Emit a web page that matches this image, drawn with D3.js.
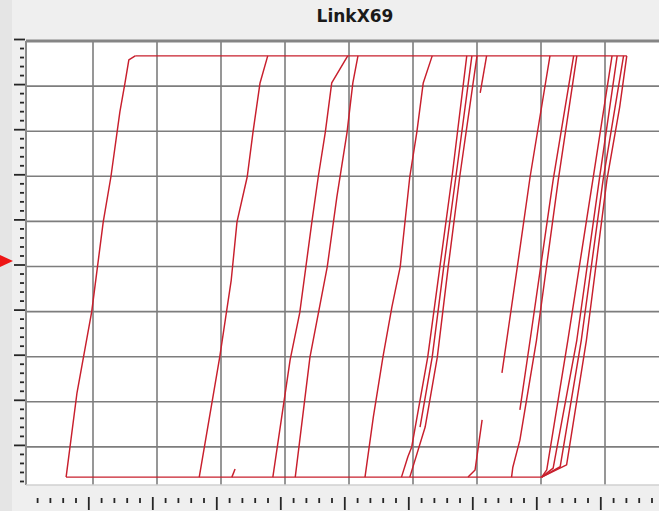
<!DOCTYPE html>
<html>
<head>
<meta charset="utf-8">
<script src="https://cdn.jsdelivr.net/npm/d3@7"></script>
<style>
  body { margin: 0; background: #efefef; }
  svg { display: block; font-family: "DejaVu Sans", Verdana, sans-serif; }
  .grid line { stroke: #7d7d7d; stroke-width: 1.6px; }
  .tick line { stroke: #262626; stroke-width: 1.8px; }
  .trace { fill: none; stroke: #c81f2d; stroke-width: 1.45px; stroke-linejoin: round; }
</style>
</head>
<body>
<div id="chart"></div>
<script>
// link position (y, 0..100) against time (x, 0..100), one polyline per vehicle
const chartTitle = 'LinkX69'
const gridX = [10, 20, 30, 40, 50, 60, 70, 80, 90]
const gridY = [10, 20, 30, 40, 50, 60, 70, 80, 90]

const entryLine = [[5.8, 3.3], [80.1, 3.3]]
const exitLine = [[16.6, 96.7], [93.4, 96.7]]

const trajA = [[5.8, 3.3], [7.5, 22], [9.8, 40], [11.6, 59.9], [12.8, 69.9], [14.2, 84.3], [15, 90.7], [15.6, 95.8], [16.6, 96.7]]
const trajB = [[26.6, 3.3], [29.8, 29.9], [31.6, 47], [32.5, 59.9], [34.1, 69.9], [35, 79.8], [36.1, 90.7], [37.3, 96.7]]
const stubB = [[31.7, 3.3], [32.2, 5.1]]
const trajC = [[38.1, 3.3], [40.8, 29.3], [42.3, 39.7], [44.2, 59.9], [45.2, 69.9], [46.3, 79.8], [47.3, 90.7], [49.8, 96.7]]
const trajD = [[41.6, 3.3], [43.9, 29.9], [46.6, 49.9], [48.1, 65.4], [49.7, 79.8], [50.6, 90.7], [51.4, 96.7]]
const trajE = [[52.5, 3.3], [53.8, 16.6], [55.3, 29.9], [56.7, 41], [58, 49.9], [59.5, 69.9], [60.6, 79.8], [61.6, 90.7], [63, 96.7]]
const trajF = [[58.2, 3.3], [59.2, 7.8], [59.8, 10], [62.3, 29.9], [64.2, 49.9], [66.1, 69.9], [68.4, 96.7]]
const trajG = [[61.1, 14.4], [63, 29.9], [64.8, 49.9], [66.7, 69.9], [69.2, 96.7]]
const trajH = [[59.5, 3.3], [61.9, 14.4], [63.8, 29.9], [65.5, 49.9], [67.3, 69.9], [70, 96.7]]
const stubH = [[70.5, 88.5], [71.5, 96.7]]
const trajJ = [[68.6, 3.3], [69.7, 4.9], [70.8, 16]]
const trajK = [[73.9, 26.4], [76.3, 49.9], [78.3, 69.9], [81.4, 96.7]]
const trajL1 = [[76.7, 18.2], [78.3, 33.7], [81.9, 69.2], [85.1, 96.7]]
const trajL2 = [[75.4, 3.3], [75.6, 5.5], [76.7, 11.5], [79.3, 33.7], [82.7, 69.2], [85.6, 96.7]]
const trajM1 = [[80.1, 3.3], [80.9, 4.9], [84.2, 33.7], [88.1, 69.2], [91.1, 96.7]]
const trajM2 = [[80.1, 3.3], [81.9, 5.3], [85.6, 33.7], [89.1, 69.2], [91.9, 96.7]]
const trajM3 = [[80.1, 3.3], [83, 5.6], [86.3, 33.7], [89.7, 69.2], [92.9, 96.7]]
const trajM4 = [[80.1, 3.3], [84, 6], [87.1, 33.7], [90.3, 69.2], [92.3, 85.4], [93.4, 96.7]]

const traces = [entryLine, exitLine, trajA, trajB, stubB, trajC, trajD, trajE, trajF, trajG,
  trajH, stubH, trajJ, trajK, trajL1, trajL2, trajM1, trajM2, trajM3, trajM4]

const width = 659
const height = 511
const plot = { left: 26, top: 41, right: 672, bottom: 485 }

const svg = d3.select('#chart').append('svg')
  .attr('width', width)
  .attr('height', height)

svg.append('rect').attr('width', width).attr('height', height).attr('fill', '#efefef')
svg.append('rect').attr('width', 12).attr('height', height).attr('fill', '#e5e5e5')

const x = d3.scaleLinear().domain([0, 100]).range([29, 669])
const y = d3.scaleLinear().domain([0, 100]).range([492, 41])

// the tick rulers sit a few pixels off the grid, as in the source
const xTicks = d3.scaleLinear().domain([0, 100]).range([24.3, 664.3])
const yTicks = d3.scaleLinear().domain([0, 100]).range([490, 39])

svg.append('text')
  .attr('x', 355).attr('y', 22)
  .attr('text-anchor', 'middle')
  .attr('font-size', 17).attr('font-weight', 'bold').attr('fill', '#1a1a1a')
  .text(chartTitle)

svg.append('clipPath').attr('id', 'clip')
  .append('rect')
  .attr('x', plot.left).attr('y', plot.top)
  .attr('width', plot.right - plot.left).attr('height', plot.bottom - plot.top)

svg.append('rect')
  .attr('x', plot.left).attr('y', plot.top)
  .attr('width', plot.right - plot.left).attr('height', plot.bottom - plot.top)
  .attr('fill', '#fff')

const grid = svg.append('g').attr('class', 'grid').attr('clip-path', 'url(#clip)')
grid.selectAll('.gx').data(gridX).join('line')
  .attr('x1', d => x(d)).attr('x2', d => x(d))
  .attr('y1', plot.top).attr('y2', plot.bottom)
grid.selectAll('.gy').data(gridY).join('line')
  .attr('y1', d => y(d)).attr('y2', d => y(d))
  .attr('x1', plot.left).attr('x2', plot.right)

// plot frame
svg.append('line').attr('x1', plot.left).attr('x2', width).attr('y1', plot.top).attr('y2', plot.top)
  .attr('stroke', '#858585').attr('stroke-width', 3)
svg.append('line').attr('x1', plot.left).attr('x2', plot.left).attr('y1', plot.top).attr('y2', plot.bottom)
  .attr('stroke', '#8a8a8a').attr('stroke-width', 2)
svg.append('line').attr('x1', plot.left).attr('x2', width).attr('y1', plot.bottom).attr('y2', plot.bottom)
  .attr('stroke', '#d0d0d0').attr('stroke-width', 1.5)

const line = d3.line().x(d => x(d[0])).y(d => y(d[1]))
svg.append('g').attr('clip-path', 'url(#clip)')
  .selectAll('path').data(traces).join('path')
  .attr('class', 'trace')
  .attr('d', line)

// rulers
const majorY = d3.range(10, 101, 10)
const minorY = d3.range(2, 100, 2).filter(v => v % 10 !== 0)
svg.append('g').attr('transform', 'translate(25,0)')
  .call(d3.axisLeft(yTicks).tickValues(majorY).tickSize(11).tickFormat(''))
  .call(g => g.select('.domain').remove())
svg.append('g').attr('transform', 'translate(24,0)')
  .call(d3.axisLeft(yTicks).tickValues(minorY).tickSize(4).tickFormat(''))
  .call(g => g.select('.domain').remove())

const majorX = d3.range(10, 100, 10)
const minorX = d3.range(2, 100, 2).filter(v => v % 10 !== 0)
svg.append('g').attr('transform', 'translate(0,497)')
  .call(d3.axisBottom(xTicks).tickValues(majorX).tickSize(13).tickFormat(''))
  .call(g => g.select('.domain').remove())
svg.append('g').attr('transform', 'translate(0,498)')
  .call(d3.axisBottom(xTicks).tickValues(minorX).tickSize(5).tickFormat(''))
  .call(g => g.select('.domain').remove())

// marker arrow on the left edge
svg.append('path')
  .attr('d', d3.line()([[0, 255], [13, 261], [0, 267]]))
  .attr('fill', '#ee1515')
</script>
</body>
</html>
